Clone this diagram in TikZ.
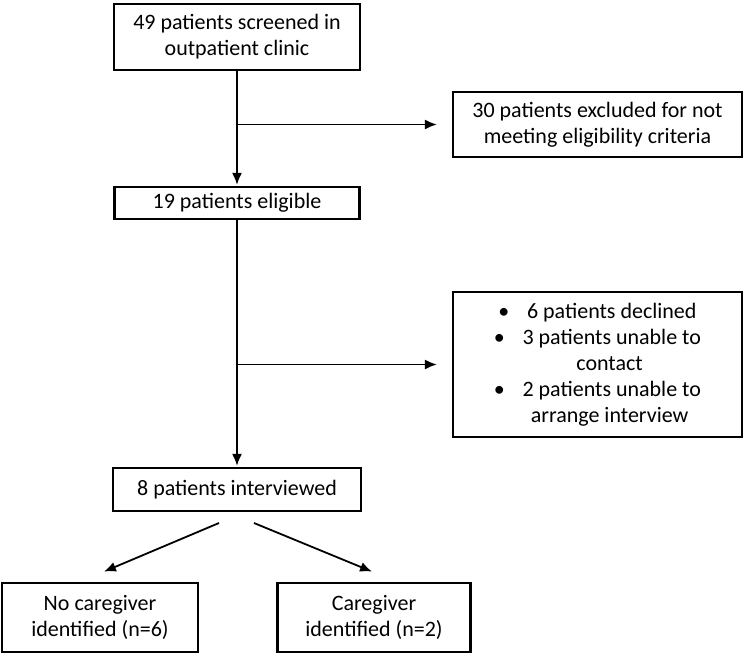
\documentclass[tikz,border=0pt]{standalone}
\usepackage{fontspec}
\setmainfont{Carlito}
\usetikzlibrary{positioning,arrows.meta}
\begin{document}
\begin{tikzpicture}
    [
    x=1pt,y=-1pt,
    box/.style={draw,line width=2.2pt,rectangle,align=center,inner sep=0pt,font=\fontsize{22}{26}\selectfont},
    flow/.style={-{Latex[length=12pt,width=10pt]},line width=1.8pt,shorten >=1pt},
    side/.style={flow,shorten >=15pt}
    ]
    \useasboundingbox (0,0) rectangle (744,657);
    \node (screened) at (237,37) [box,minimum width=246pt,minimum height=66pt] {49 patients screened in\\outpatient clinic};
    \node (excluded) at (597.5,124.5) [box,minimum width=289pt,minimum height=65pt] {30 patients excluded for not\\meeting eligibility criteria};
    \node (eligible) at (237,203) [box,minimum width=245pt,minimum height=32pt] {19 patients eligible};
    \node (declined) at (597.5,364.5) [box,minimum width=289pt,minimum height=145pt]
      {\textbullet\hspace{0.8em}6 patients declined\\
       \textbullet\hspace{0.8em}3 patients unable to\\
       \hspace*{1.1em}contact\\
       \textbullet\hspace{0.8em}2 patients unable to\\
       \hspace*{1.1em}arrange interview};
    \node (interviewed) at (237,489.5) [box,minimum width=248pt,minimum height=43pt] {8 patients interviewed};
    \node (nocare) at (100,617.5) [box,minimum width=196pt,minimum height=69pt] {No caregiver\\identified (n=6)};
    \node (care) at (374,617.5) [box,minimum width=193pt,minimum height=69pt] {Caregiver\\identified (n=2)};
    \coordinate (split1) at (screened.south |- excluded.west);
    \coordinate (split2) at (eligible.south |- declined.west);
    \coordinate (fromL) at (219,523);
    \coordinate (toL) at (103,572);
    \coordinate (fromR) at (254,523);
    \coordinate (toR) at (373,572);
    \draw [flow] (screened) to (eligible);
    \draw [side] (split1) to (excluded.west);
    \draw [flow] (eligible) to (interviewed);
    \draw [side] (split2) to (declined.west);
    \draw [flow] (fromL) to (toL);
    \draw [flow] (fromR) to (toR);
  \end{tikzpicture}
\end{document}
